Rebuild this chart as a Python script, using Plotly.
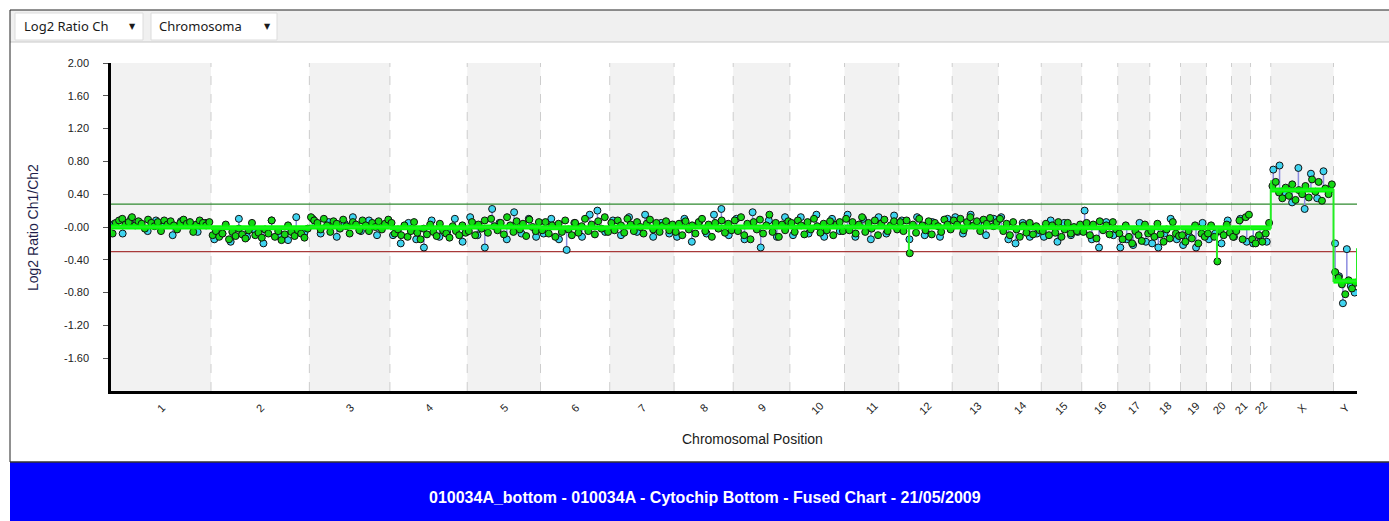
import plotly.graph_objects as go

# ---------------- data ----------------
chromosomes = ["1", "2", "3", "4", "5", "6", "7", "8", "9", "10", "11", "12",
               "13", "14", "15", "16", "17", "18", "19", "20", "21", "22", "X", "Y"]
chrom_lengths_mb = [247, 243, 199, 191, 181, 171, 159, 146, 140, 135, 134, 132,
                    114, 106, 100, 89, 79, 76, 64, 62, 47, 50, 155, 58]
# fused segment level per chromosome (thick green line)
segment_means = [0.0, -0.01, 0.0, -0.01, 0.0, -0.01, 0.0, 0.0, 0.0, 0.0, 0.0, 0.0,
                 0.0, -0.01, -0.01, -0.01, -0.01, -0.01, -0.01, -0.01, -0.01, -0.01, 0.45, -0.66]
# spikes of the thin smoothed line (chromosome, offset in Mb, value)
spike_chrom = ["1", "12", "20", "X", "Y"]
spike_offset_mb = [0, 25, 26, 1, 58]
spike_value = [-0.08, -0.32, -0.42, 0.57, -0.26]

gain_threshold = 0.28
loss_threshold = -0.30

y_tick_values = [2.0, 1.6, 1.2, 0.8, 0.4, 0.0, -0.4, -0.8, -1.2, -1.6]
y_tick_text = ["2.00", "1.60", "1.20", "0.80", "0.40", "-0.00", "-0.40", "-0.80", "-1.20", "-1.60"]

# green points (replicate 1), per chromosome
green_1 = [-0.08, 0.05, 0.08, 0.10, 0.03, 0.06, 0.12, 0.02, 0.07, 0.04, -0.02, 0.09, 0.05, 0.01, 0.06, -0.05,
           0.08, 0.03, 0.07, 0.02, -0.03, 0.05, 0.09, 0.04, 0.06, -0.06, 0.03, 0.08, 0.05, 0.02, 0.06]
green_2 = [-0.10, -0.05, -0.12, -0.08, 0.03, -0.15, -0.06, -0.11, -0.02, -0.09, -0.14, -0.04, 0.05, -0.10, -0.07,
           -0.13, -0.03, -0.08, 0.08, -0.12, -0.05, -0.16, -0.09, 0.02, -0.06, -0.11, -0.04, -0.08, -0.13, -0.02]
green_3 = [0.12, 0.08, 0.05, -0.03, 0.10, 0.02, -0.06, 0.07, 0.04, -0.02, 0.09, 0.01, -0.08, 0.06, 0.03, -0.04,
           0.08, 0.02, -0.05, 0.05, 0.00, 0.07, -0.03, 0.04, 0.09]
green_4 = [0.05, -0.08, -0.03, -0.10, 0.02, -0.12, -0.05, 0.06, -0.07, -0.15, -0.02, -0.09, 0.03, -0.06, -0.11,
           0.04, -0.04, -0.08, -0.13, 0.01, -0.05, -0.10, 0.02, -0.07]
green_5 = [-0.05, 0.06, -0.10, 0.03, -0.02, 0.08, -0.07, 0.10, 0.01, -0.04, 0.05, -0.09, 0.12, 0.02, -0.06, 0.07,
           -0.03, 0.04, -0.11, 0.09, 0.00, -0.05, 0.06]
green_6 = [-0.04, 0.06, -0.08, 0.02, -0.12, 0.04, -0.06, 0.08, -0.03, -0.10, 0.05, -0.07, 0.01, 0.10, -0.05, 0.03,
           -0.09, 0.07, -0.02, 0.12, -0.06]
green_7 = [0.05, -0.04, 0.08, 0.02, -0.07, 0.10, 0.03, -0.05, 0.06, 0.00, -0.08, 0.04, 0.09, -0.03, 0.05, -0.06,
           0.02, 0.07, -0.04, 0.03]
green_8 = [-0.06, 0.04, -0.10, 0.07, -0.03, 0.02, -0.08, 0.06, 0.10, -0.05, 0.03, -0.12, 0.05, -0.02, 0.08, -0.07,
           0.04, -0.04]
green_9 = [0.08, -0.05, 0.12, -0.10, 0.04, -0.15, 0.06, -0.03, 0.09, -0.08, 0.02, 0.15, -0.06, 0.05, -0.12, 0.03,
           -0.04, 0.07]
green_10 = [0.05, -0.06, 0.08, 0.02, -0.09, 0.06, -0.03, 0.10, 0.01, -0.07, 0.04, -0.04, 0.07, -0.10, 0.03, 0.06, -0.05]
green_11 = [0.10, -0.04, 0.06, -0.08, 0.03, 0.12, -0.06, 0.05, -0.02, 0.08, -0.10, 0.04, 0.09, -0.05, 0.02, 0.07, -0.03]
green_12 = [0.06, -0.05, 0.08, -0.32, 0.03, -0.07, 0.10, 0.02, -0.04, 0.07, -0.09, 0.05, 0.01, -0.06, 0.09, 0.03, -0.03]
green_13 = [0.08, 0.03, 0.10, -0.04, 0.06, 0.12, 0.02, 0.07, -0.05, 0.09, 0.04, 0.11, 0.01, 0.06]
green_14 = [0.10, -0.05, 0.04, -0.10, 0.06, -0.03, -0.12, 0.02, -0.07, 0.05, -0.09, 0.01, -0.04]
green_15 = [-0.05, 0.04, -0.10, 0.02, -0.07, 0.06, -0.12, -0.03, 0.05, -0.08, 0.00, -0.05, 0.03]
green_16 = [-0.06, 0.05, -0.10, 0.03, -0.14, 0.07, -0.04, 0.02, -0.09, 0.06, -0.03]
green_17 = [-0.08, -0.15, 0.02, -0.12, -0.20, -0.05, -0.10, -0.17, 0.03, -0.08]
green_18 = [-0.05, -0.12, 0.04, -0.09, -0.18, -0.03, -0.14, 0.06, -0.08, -0.11]
green_19 = [-0.10, -0.18, -0.05, -0.14, 0.02, -0.20, -0.08, -0.12]
green_20 = [-0.08, 0.02, -0.12, -0.42, -0.05, -0.10, 0.03, -0.07]
green_21 = [-0.12, -0.05, 0.08, -0.15, 0.12, 0.15]
green_22 = [-0.15, -0.20, -0.10, -0.18, -0.08, 0.05]
green_X = [0.50, 0.55, 0.42, 0.35, 0.48, 0.38, 0.52, 0.33, 0.45, 0.40, 0.50, 0.36, 0.58, 0.43, 0.55, 0.32, 0.47,
           0.40, 0.52]
green_Y = [-0.55, -0.62, -0.70, -0.82, -0.65, -0.75, -0.68]

# cyan points (replicate 2), per chromosome
cyan_1 = [0.04, -0.08, 0.10, 0.06, -0.05, 0.08, 0.02, -0.10, 0.07, 0.03, -0.06, 0.05]
cyan_2 = [-0.15, -0.08, -0.18, 0.10, -0.12, -0.05, -0.20, 0.08, -0.10, -0.16, 0.12, -0.07]
cyan_3 = [0.10, -0.08, 0.06, -0.12, 0.04, 0.12, -0.05, 0.08, -0.10, 0.03]
cyan_4 = [-0.10, -0.20, 0.05, -0.15, -0.25, 0.08, -0.12, -0.06, 0.10, -0.18]
cyan_5 = [0.12, -0.10, -0.25, 0.22, 0.05, -0.15, 0.18, -0.08, 0.10, -0.12]
cyan_6 = [-0.08, 0.10, -0.15, -0.28, 0.05, -0.12, 0.15, 0.20, -0.06]
cyan_7 = [0.08, -0.10, 0.12, -0.06, 0.15, -0.12, 0.05, -0.08]
cyan_8 = [-0.12, 0.10, -0.18, 0.06, -0.08, 0.15, 0.22, -0.10]
cyan_9 = [0.10, -0.15, 0.18, -0.25, 0.08, -0.12, 0.12]
cyan_10 = [-0.10, 0.12, -0.08, 0.15, -0.12, 0.10, -0.05]
cyan_11 = [0.15, -0.12, 0.10, -0.15, 0.12, -0.08, 0.14]
cyan_12 = [0.08, -0.15, 0.12, -0.10, 0.06, -0.12, 0.10]
cyan_13 = [0.12, -0.08, 0.15, 0.05, -0.10, 0.10]
cyan_14 = [0.12, -0.15, -0.20, 0.05, -0.12, -0.08]
cyan_15 = [-0.12, 0.08, -0.18, 0.05, -0.10, -0.06]
cyan_16 = [0.20, -0.15, -0.25, 0.06, -0.10]
cyan_17 = [-0.25, -0.15, -0.22, 0.05, -0.18]
cyan_18 = [-0.20, -0.25, -0.08, 0.10, -0.15]
cyan_19 = [-0.22, -0.12, -0.25, 0.05]
cyan_20 = [-0.15, -0.08, -0.20, 0.08]
cyan_21 = [-0.12, 0.10, -0.18]
cyan_22 = [-0.20, -0.12, -0.18]
cyan_X = [0.70, 0.75, 0.40, 0.30, 0.72, 0.22, 0.65, 0.35, 0.68, 0.45]
cyan_Y = [-0.20, -0.60, -0.93, -0.27, -0.72, -0.80]

x_axis_title = "Chromosomal Position"
y_axis_title = "Log2 Ratio Ch1/Ch2"
banner_text = "010034A_bottom - 010034A - Cytochip Bottom - Fused Chart - 21/05/2009"
dropdown_labels = ["Log2 Ratio Ch", "Chromosoma"]

# ---------------- construction ----------------
green_series = [green_1, green_2, green_3, green_4, green_5, green_6, green_7, green_8, green_9, green_10,
                green_11, green_12, green_13, green_14, green_15, green_16, green_17, green_18, green_19,
                green_20, green_21, green_22, green_X, green_Y]
cyan_series = [cyan_1, cyan_2, cyan_3, cyan_4, cyan_5, cyan_6, cyan_7, cyan_8, cyan_9, cyan_10,
               cyan_11, cyan_12, cyan_13, cyan_14, cyan_15, cyan_16, cyan_17, cyan_18, cyan_19,
               cyan_20, cyan_21, cyan_22, cyan_X, cyan_Y]

starts = []
acc = 0
for L in chrom_lengths_mb:
    starts.append(acc)
    acc += L
genome_len = acc


def spread(start, length, n, shift=0.5):
    return [start + (i + shift) * length / n for i in range(n)]


gx, gy, cx, cy, sx, sy = [], [], [], [], [], []
for k, ch in enumerate(chromosomes):
    s, L = starts[k], chrom_lengths_mb[k]
    vals = green_series[k]
    gx += spread(s, L, len(vals))
    gy += vals
    cvals = cyan_series[k]
    xs = spread(s, L, len(cvals), 0.4)
    cx += xs
    cy += cvals
    for xv, yv in zip(xs, cvals):
        sx += [xv, xv, None]
        sy += [yv, segment_means[k], None]

# thick segment line (one horizontal run per chromosome)
tx, ty = [], []
for k in range(len(chromosomes)):
    tx += [starts[k], starts[k] + chrom_lengths_mb[k], None]
    ty += [segment_means[k], segment_means[k], None]

# thin smoothed line with spikes, built chromosome by chromosome
lx, ly = [], []
for k, ch in enumerate(chromosomes):
    s, L, m = starts[k], chrom_lengths_mb[k], segment_means[k]
    my_spikes = sorted([(o, v) for c, o, v in zip(spike_chrom, spike_offset_mb, spike_value) if c == ch])
    seq = [(s, m)]
    for o, v in my_spikes:
        if o <= 0:
            seq.insert(0, (s, v))
        elif o >= L:
            pass
        else:
            seq += [(s + o, m), (s + o, v), (s + o, m)]
    seq.append((s + L, m))
    for o, v in my_spikes:
        if o >= L:
            seq.append((s + L, v))
    lx += [p[0] for p in seq]
    ly += [p[1] for p in seq]

PL, PR, PT, PB = 111, 1357, 63, 391


def px(x):
    return (x - PL) / (PR - PL)


def py(y):
    return (PB - y) / (PB - PT)


fig = go.Figure()

fig.add_trace(go.Scatter(x=[0, genome_len], y=[gain_threshold, gain_threshold], mode="lines",
                         line=dict(color="#2f8a2f", width=1.3), hoverinfo="skip"))
fig.add_trace(go.Scatter(x=[0, genome_len], y=[loss_threshold, loss_threshold], mode="lines",
                         line=dict(color="#a83a3a", width=1.3), hoverinfo="skip"))
fig.add_trace(go.Scatter(x=sx, y=sy, mode="lines", line=dict(color="#8c8ce0", width=1.5), hoverinfo="skip"))
fig.add_trace(go.Scatter(x=cx, y=cy, mode="markers",
                         marker=dict(size=7, color="#3fd3ef", line=dict(color="#111111", width=1))))
fig.add_trace(go.Scatter(x=gx, y=gy, mode="markers",
                         marker=dict(size=7, color="#14d614", line=dict(color="#111111", width=1))))
fig.add_trace(go.Scatter(x=tx, y=ty, mode="lines", line=dict(color="#00ff00", width=5), hoverinfo="skip",
                         connectgaps=False))
fig.add_trace(go.Scatter(x=lx, y=ly, mode="lines", line=dict(color="#22ee22", width=2), hoverinfo="skip"))

shapes = []
for k in range(len(chromosomes)):
    if k % 2 == 0:
        shapes.append(dict(type="rect", xref="x", yref="paper", x0=starts[k], x1=starts[k] + chrom_lengths_mb[k],
                           y0=0, y1=1, fillcolor="#f2f2f2", line=dict(width=0), layer="below"))
for k in range(1, len(chromosomes)):
    shapes.append(dict(type="line", xref="x", yref="paper", x0=starts[k], x1=starts[k], y0=0, y1=1,
                       line=dict(color="#cdcdcd", width=1, dash="dash"), layer="below"))

# toolbar & frame
shapes.append(dict(type="rect", xref="paper", yref="paper", x0=px(10), x1=px(1400), y0=py(42), y1=py(10),
                   fillcolor="#f0f0f0", line=dict(width=0)))
shapes.append(dict(type="line", xref="paper", yref="paper", x0=px(10), x1=px(1400), y0=py(42), y1=py(42),
                   line=dict(color="#c8c8c8", width=1)))
shapes.append(dict(type="line", xref="paper", yref="paper", x0=px(10), x1=px(1400), y0=py(10), y1=py(10),
                   line=dict(color="#222222", width=1)))
shapes.append(dict(type="line", xref="paper", yref="paper", x0=px(10), x1=px(10), y0=py(10), y1=py(462),
                   line=dict(color="#222222", width=1)))
for (bx0, bx1) in [(15, 143), (151, 277)]:
    shapes.append(dict(type="rect", xref="paper", yref="paper", x0=px(bx0), x1=px(bx1), y0=py(40), y1=py(13),
                       fillcolor="#ffffff", line=dict(color="#dcdcdc", width=1)))
# banner
shapes.append(dict(type="rect", xref="paper", yref="paper", x0=px(10), x1=px(1400), y0=py(530), y1=py(462),
                   fillcolor="#0000ff", line=dict(width=0)))
shapes.append(dict(type="line", xref="paper", yref="paper", x0=px(10), x1=px(1400), y0=py(462), y1=py(462),
                   line=dict(color="#333333", width=1.5)))


def ann(x, y, text, font, xref="paper", angle=0, xanchor="center"):
    return dict(x=x, y=y, xref=xref, yref="paper", text=text, showarrow=False, textangle=angle,
                xanchor=xanchor, yanchor="middle", font=font)


annotations = []
for k, ch in enumerate(chromosomes):
    annotations.append(ann(starts[k] + chrom_lengths_mb[k] / 2, py(408), ch,
                           dict(family="Liberation Sans, Arial", size=11, color="#222222"), xref="x", angle=-45))
annotations.append(ann(px(752), py(439), x_axis_title,
                       dict(family="Liberation Sans, Arial", size=14, color="#1a1a1a")))
annotations.append(ann(px(33), py(227), y_axis_title,
                       dict(family="Liberation Sans, Arial", size=14, color="#1e1e4a"), angle=-90))
annotations.append(ann(px(705), py(497), "<b>" + banner_text + "</b>",
                       dict(family="Liberation Sans Narrow, Liberation Sans, Arial", size=16, color="#ffffff")))
annotations.append(ann(px(22), py(26), dropdown_labels[0],
                       dict(family="Noto Sans, Open Sans", size=13, color="#1a1a1a"), xanchor="left"))
annotations.append(ann(px(157), py(26), dropdown_labels[1],
                       dict(family="Noto Sans, Open Sans", size=13, color="#1a1a1a"), xanchor="left"))
for ax_px in [132, 267]:
    annotations.append(ann(px(ax_px), py(27), "▼", dict(family="DejaVu Sans", size=8, color="#1a1a1a")))

fig.update_layout(
    width=1389, height=521,
    margin=dict(l=PL, r=1389 - PR, t=PT, b=521 - PB, autoexpand=False),
    paper_bgcolor="#ffffff", plot_bgcolor="#ffffff",
    showlegend=False,
    shapes=shapes, annotations=annotations,
    xaxis=dict(range=[0, genome_len], showticklabels=False, ticks="", showgrid=False, zeroline=False,
               showline=True, linecolor="#000000", linewidth=2.5, fixedrange=True),
    yaxis=dict(range=[-2, 2], tickvals=y_tick_values, ticktext=y_tick_text, ticks="outside", ticklen=5,
               tickcolor="#555555", ticklabelstandoff=12, showgrid=False, zeroline=False,
               showline=True, linecolor="#000000", linewidth=2.5,
               tickfont=dict(family="Liberation Sans, Arial", size=11, color="#222222"), fixedrange=True),
)

fig.write_html("out.html")
